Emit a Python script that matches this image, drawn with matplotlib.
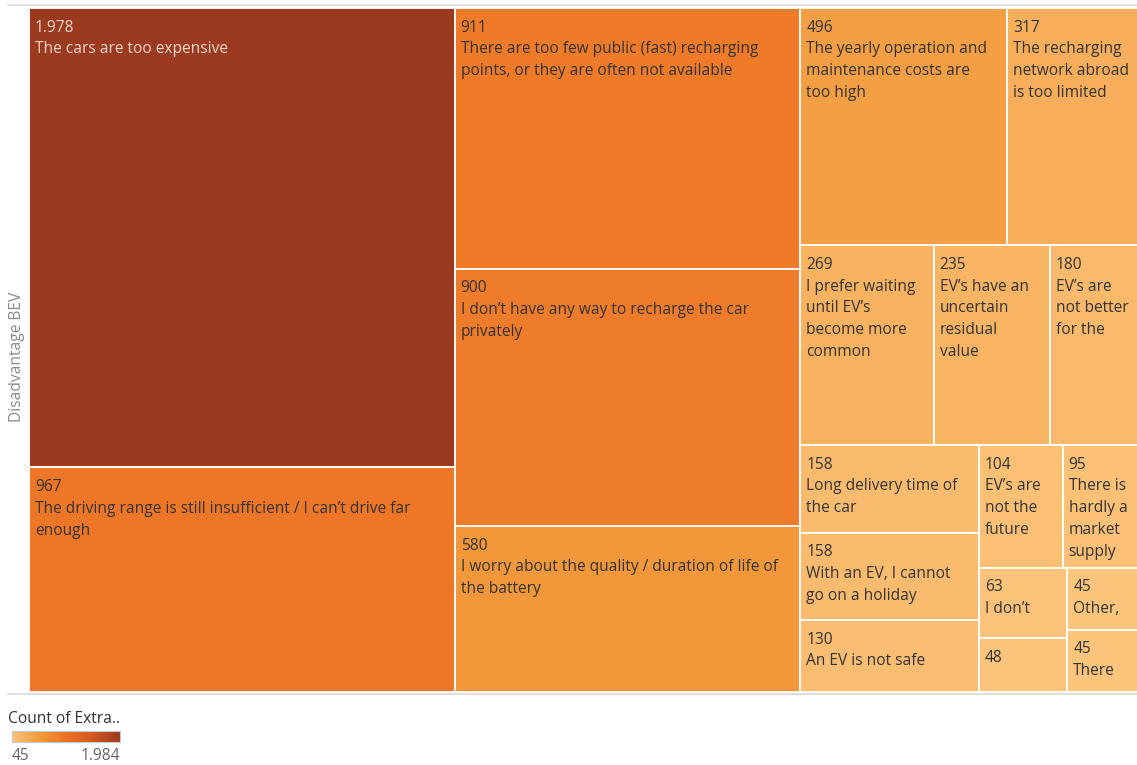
import numpy as np
import matplotlib.pyplot as plt
from matplotlib.colors import LinearSegmentedColormap, Normalize
from matplotlib.patches import Rectangle

plt.rcParams['font.family'] = ['Open Sans', 'DejaVu Sans']

# answers per disadvantage (size and colour of each tile)
counts = [1978, 967, 911, 900, 580, 496, 317, 269, 235, 180,
          158, 158, 130, 104, 95, 63, 48, 45, 45]
labels = [
    ["The cars are too expensive"],
    ["The driving range is still insufficient / I can\u2019t drive far", "enough"],
    ["There are too few public (fast) recharging", "points, or they are often not available"],
    ["I don\u2019t have any way to recharge the car", "privately"],
    ["I worry about the quality / duration of life of", "the battery"],
    ["The yearly operation and", "maintenance costs are", "too high"],
    ["The recharging", "network abroad", "is too limited"],
    ["I prefer waiting", "until EV\u2019s", "become more", "common"],
    ["EV\u2019s have an", "uncertain", "residual", "value"],
    ["EV\u2019s are", "not better", "for the"],
    ["Long delivery time of", "the car"],
    ["With an EV, I cannot", "go on a holiday"],
    ["An EV is not safe"],
    ["EV\u2019s are", "not the", "future"],
    ["There is", "hardly a", "market", "supply"],
    ["I don\u2019t"],
    [],
    ["Other,"],
    ["There"],
]
color_min, color_max = 45, 1984


def squarify(values, x0, y0, x1, y1, ratio=(1 + 5 ** 0.5) / 2):
    # squarified layout, rows laid along the shorter side
    rects = []
    total = float(sum(values))
    i0, n = 0, len(values)
    while i0 < n:
        dx, dy = x1 - x0, y1 - y0
        s = values[i0]
        vmin = vmax = s
        alpha = max(dy / dx, dx / dy) / (total * ratio)
        beta = s * s * alpha
        best = max(vmax / beta, beta / vmin)
        i1 = i0 + 1
        while i1 < n:
            v = values[i1]
            s2 = s + v
            beta = s2 * s2 * alpha
            r = max(max(vmax, v) / beta, beta / min(vmin, v))
            if r > best:
                break
            s, best = s2, r
            vmin, vmax = min(vmin, v), max(vmax, v)
            i1 += 1
        row = values[i0:i1]
        if dx < dy:
            h = dy * s / total
            xx = x0
            for v in row:
                w = dx * v / s
                rects.append((xx, y0, w, h))
                xx += w
            y0 += h
        else:
            w = dx * s / total
            yy = y0
            for v in row:
                h = dy * v / s
                rects.append((x0, yy, w, h))
                yy += h
            x0 += w
        total -= s
        i0 = i1
    return rects


cmap = LinearSegmentedColormap.from_list("tab_orange", [
    (0.0, "#fdc47c"), (0.25, "#f39c3e"), (0.48, "#ee7526"),
    (0.72, "#d55c22"), (1.0, "#9c3a20")])
norm = Normalize(color_min, color_max)

W, H = 1137, 765
fig = plt.figure(figsize=(W / 100, H / 100), dpi=100)

# treemap area in pixel units
tw, th = 1110, 684
ax = fig.add_axes([29 / W, (H - 692) / H, tw / W, th / H])
ax.set_xlim(0, tw)
ax.set_ylim(th, 0)
ax.axis("off")

fs = 11.2
for (x, y, w, h), v, lines in zip(squarify(counts, 0, 0, tw, th), counts, labels):
    rect = Rectangle((x, y), w, h, facecolor=cmap(norm(v)), edgecolor="white", lw=1.3)
    ax.add_patch(rect)
    tc = "#f3d6c8" if v > 1500 else "#333333"
    txt = [f"{v:,}".replace(",", ".")] + lines
    for i, t in enumerate(txt):
        tt = ax.text(x + 6, y + 19.5 + 21.8 * i, t, fontsize=fs, color=tc,
                     ha="left", va="center")
        tt.set_clip_path(rect)

# frame lines and axis title
fig.add_artist(plt.Line2D([8 / W, 1], [1 - 5 / H, 1 - 5 / H], color="#e2e2e2", lw=1.5))
fig.add_artist(plt.Line2D([8 / W, 1], [1 - 694 / H, 1 - 694 / H], color="#d9d9d9", lw=1.2))
fig.text(17 / W, 1 - 357 / H, "Disadvantage BEV", rotation=90, fontsize=fs,
         color="#8a8a8a", ha="center", va="center")

# colour legend
fig.text(8 / W, 1 - 719 / H, "Count of Extra..", fontsize=fs, color="#333333",
         ha="left", va="center")
cax = fig.add_axes([12 / W, 1 - 742 / H, 108 / W, 11 / H])
cax.imshow(np.linspace(0, 1, 256)[None, :], aspect="auto", cmap=cmap)
cax.set_xticks([])
cax.set_yticks([])
for sp in cax.spines.values():
    sp.set_color("#c8c8c8")
fig.text(12 / W, 1 - 756 / H, "45", fontsize=fs, color="#666666", ha="left", va="center")
fig.text(120 / W, 1 - 756 / H, "1.984", fontsize=fs, color="#666666", ha="right", va="center")

fig.savefig("out.png", dpi=100)
